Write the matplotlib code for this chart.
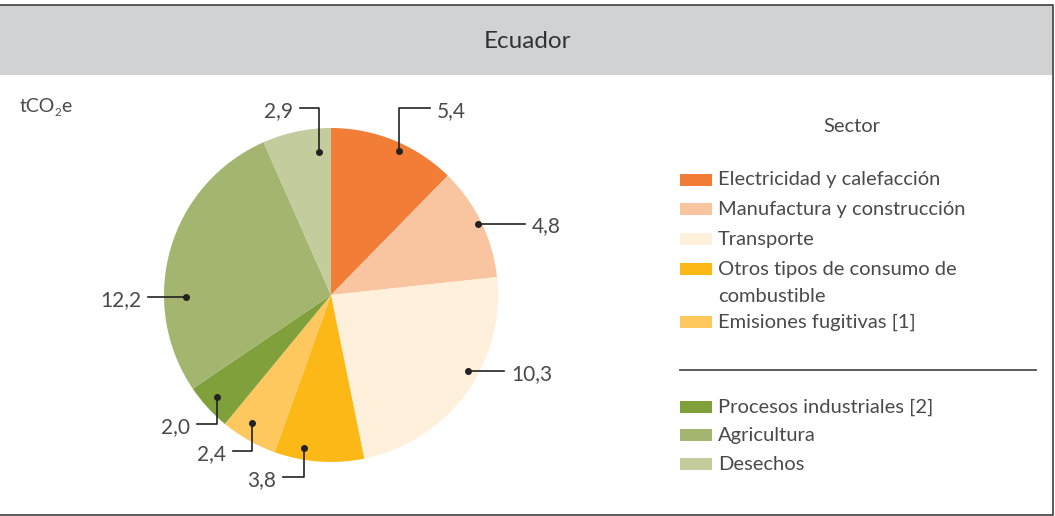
import matplotlib
matplotlib.use('Agg')
import matplotlib.pyplot as plt
from matplotlib.patches import Rectangle
import numpy as np

W, H = 1055, 516

sectores = ["Electricidad y calefacción", "Manufactura y construcción", "Transporte",
            "Otros tipos de consumo de\ncombustible", "Emisiones fugitivas [1]",
            "Procesos industriales [2]", "Agricultura", "Desechos"]
valores = [5.4, 4.8, 10.3, 3.8, 2.4, 2.0, 12.2, 2.9]
colores = ["#f17d37", "#f9c5a1", "#fef0da", "#fbb817", "#fec85e",
           "#7fa03b", "#a3b56e", "#c3cc9d"]
etiquetas = ["5,4", "4,8", "10,3", "3,8", "2,4", "2,0", "12,2", "2,9"]

plt.rcParams['font.family'] = ['Lato', 'DejaVu Sans']
TXT = "#4a4a4a"

fig = plt.figure(figsize=(W / 100, H / 100), dpi=100)
ax = fig.add_axes([0, 0, 1, 1])

def py(y):
    # pixel row (from top) -> data y
    return H - y

# pie
cx, cy, R = 331, py(295), 167
wedges, _ = ax.pie(valores, colors=colores, startangle=90, counterclock=False,
                   center=(cx, cy), radius=R, frame=True,
                   wedgeprops=dict(linewidth=0))
ax.set_xlim(0, W)
ax.set_ylim(0, H)
ax.set_aspect('equal')
ax.axis('off')

# frame and header band
ax.add_patch(Rectangle((0, py(75)), W - 2, 70, facecolor="#d1d2d4", edgecolor="none"))
ax.plot([0, 1053, 1053, 0], [py(5), py(5), py(515), py(515)], color="#4d4d4d", lw=1.3)
ax.text(527, py(42), "Ecuador", ha='center', va='center', fontsize=17.5, color="#333333")

# unit label tCO2e with a small subscript
r = fig.canvas.get_renderer()
t1 = ax.text(20, py(107), "tCO", ha='left', va='center', fontsize=14, color=TXT)
x1 = t1.get_window_extent(r).x1
t2 = ax.text(x1 - 0.5, py(113), "2", ha='left', va='center', fontsize=8.5, color=TXT)
x2 = t2.get_window_extent(r).x1
ax.text(x2 - 0.5, py(107), "e", ha='left', va='center', fontsize=14, color=TXT)

# leader lines: (angle shift from wedge middle, radius fraction, elbow row, end column)
guias = [
    (-3.0, 0.95, 108, 430),
    (0.0, 0.98, None, 525),
    (7.0, 0.94, None, 504),
    (-6.0, 0.93, 477, 283),
    (-2.0, 0.90, 451, 233),
    (-0.5, 0.92, 424, 197),
    (17.0, 0.87, None, 148),
    (-7.0, 0.86, 108, 300),
]
for w, lab, (dang, rf, elbow, xend) in zip(wedges, etiquetas, guias):
    ang = np.deg2rad((w.theta1 + w.theta2) / 2 + dang)
    dx = cx + rf * R * np.cos(ang)
    dy = cy + rf * R * np.sin(ang)
    if elbow is None:
        xs, ys = [dx, xend], [dy, dy]
        ty = dy
    else:
        xs, ys = [dx, dx, xend], [dy, py(elbow), py(elbow)]
        ty = py(elbow)
    ax.plot(xs, ys, color="#222222", lw=1.2)
    ax.plot(dx, dy, 'o', color="#222222", ms=4)
    if xend > dx:
        ax.text(xend + 7, ty - 3, lab, ha='left', va='center', fontsize=15, color=TXT)
    else:
        ax.text(xend - 7, ty - 3, lab, ha='right', va='center', fontsize=15, color=TXT)

# legend
ax.text(852, py(127), "Sector", ha='center', va='center', fontsize=14.5, color=TXT)
filas = [180, 209, 239, 269, 322, 407, 435, 464]
for nombre, col, fy in zip(sectores, colores, filas):
    ax.add_patch(Rectangle((680, py(fy) - 6), 32, 12, facecolor=col, edgecolor="none"))
    for i, linea in enumerate(nombre.split('\n')):
        ax.text(718, py(fy) - 27 * i, linea, ha='left', va='center',
                fontsize=14.5, color=TXT)
ax.plot([680, 1036], [py(370), py(370)], color="#4d4d4d", lw=1.3)

fig.savefig("out.png", dpi=100)
